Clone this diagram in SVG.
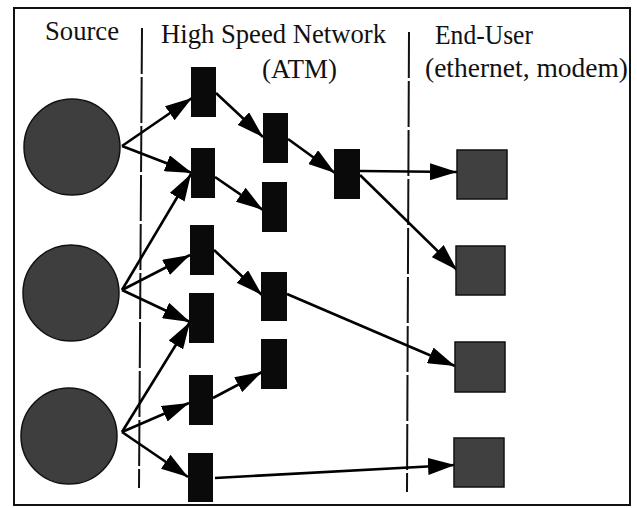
<svg xmlns="http://www.w3.org/2000/svg" width="637" height="508" viewBox="0 0 637 508">
<style>
.lbl{font-family:'Liberation Serif','Times New Roman',serif;font-size:26.5px;fill:#111}
.src{fill:#3e3e3e;stroke:#111;stroke-width:1.5}
.atm{fill:#0a0a0a}
.usr{fill:#404040;stroke:#111;stroke-width:1.5}
.edge{stroke:#000;stroke-width:2.6;fill:none;marker-end:url(#arr)}
.div{stroke:#111;stroke-width:2;stroke-dasharray:46 3}
</style>
<defs>
<marker id="arr" viewBox="0 0 27 17" refX="27" refY="8.5" markerWidth="27" markerHeight="17" markerUnits="userSpaceOnUse" orient="auto">
<path d="M0,0 L27,8.5 L0,17 z" fill="#000"/>
</marker>
</defs>
<rect x="0" y="0" width="637" height="508" fill="#fff"/>
<rect x="14" y="8" width="616" height="497" fill="none" stroke="#111" stroke-width="2"/>
<g id="dividers">
<line class="div" x1="142" y1="28" x2="139" y2="488"/>
<line class="div" x1="409" y1="32" x2="407" y2="492"/>
</g>
<g id="labels">
<text class="lbl" x="45" y="40" textLength="74" lengthAdjust="spacingAndGlyphs">Source</text>
<text class="lbl" x="161" y="43" textLength="225" lengthAdjust="spacingAndGlyphs">High Speed Network</text>
<text class="lbl" x="262" y="78" textLength="75" lengthAdjust="spacingAndGlyphs">(ATM)</text>
<text class="lbl" x="435" y="44" textLength="98" lengthAdjust="spacingAndGlyphs">End-User</text>
<text class="lbl" x="425" y="77" textLength="203" lengthAdjust="spacingAndGlyphs">(ethernet, modem)</text>
</g>
<g id="connectors">
<line class="edge" x1="122" y1="146" x2="192" y2="98"/>
<line class="edge" x1="122" y1="146" x2="192" y2="173"/>
<line class="edge" x1="122" y1="290" x2="191" y2="174"/>
<line class="edge" x1="122" y1="290" x2="190" y2="255"/>
<line class="edge" x1="122" y1="290" x2="190" y2="322"/>
<line class="edge" x1="122" y1="432" x2="190" y2="322"/>
<line class="edge" x1="122" y1="432" x2="189" y2="403"/>
<line class="edge" x1="122" y1="432" x2="188" y2="477"/>
<line class="edge" x1="216" y1="93" x2="263" y2="137"/>
<line class="edge" x1="215" y1="177" x2="263" y2="210"/>
<line class="edge" x1="288" y1="139" x2="335" y2="173"/>
<line class="edge" x1="214" y1="250" x2="262" y2="295"/>
<line class="edge" x1="360" y1="171" x2="457" y2="172"/>
<line class="edge" x1="360" y1="175" x2="457" y2="270"/>
<line class="edge" x1="287" y1="294" x2="455" y2="366"/>
<line class="edge" x1="213" y1="398" x2="262" y2="372"/>
<line class="edge" x1="215" y1="478" x2="455" y2="465"/>
</g>
<g id="source1"><circle class="src" cx="72" cy="147" r="48"/></g>
<g id="source2"><circle class="src" cx="71" cy="293" r="48"/></g>
<g id="source3"><circle class="src" cx="69" cy="436" r="48"/></g>
<g id="atmA"><rect class="atm" x="191" y="67" width="25" height="50"/></g>
<g id="atmB"><rect class="atm" x="191" y="148" width="24" height="50"/></g>
<g id="atmC"><rect class="atm" x="190" y="225" width="24" height="50"/></g>
<g id="atmD"><rect class="atm" x="189" y="293" width="25" height="50"/></g>
<g id="atmE"><rect class="atm" x="189" y="375" width="24" height="50"/></g>
<g id="atmF"><rect class="atm" x="188" y="453" width="25" height="49"/></g>
<g id="atmG"><rect class="atm" x="263" y="113" width="25" height="50"/></g>
<g id="atmH"><rect class="atm" x="262" y="182" width="25" height="50"/></g>
<g id="atmI"><rect class="atm" x="261" y="272" width="26" height="49"/></g>
<g id="atmJ"><rect class="atm" x="261" y="339" width="26" height="50"/></g>
<g id="atmK"><rect class="atm" x="334" y="149" width="26" height="50"/></g>
<g id="user1"><rect class="usr" x="457" y="150" width="50" height="49"/></g>
<g id="user2"><rect class="usr" x="456" y="246" width="49" height="49"/></g>
<g id="user3"><rect class="usr" x="455" y="342" width="50" height="50"/></g>
<g id="user4"><rect class="usr" x="454" y="438" width="50" height="49"/></g>
</svg>
